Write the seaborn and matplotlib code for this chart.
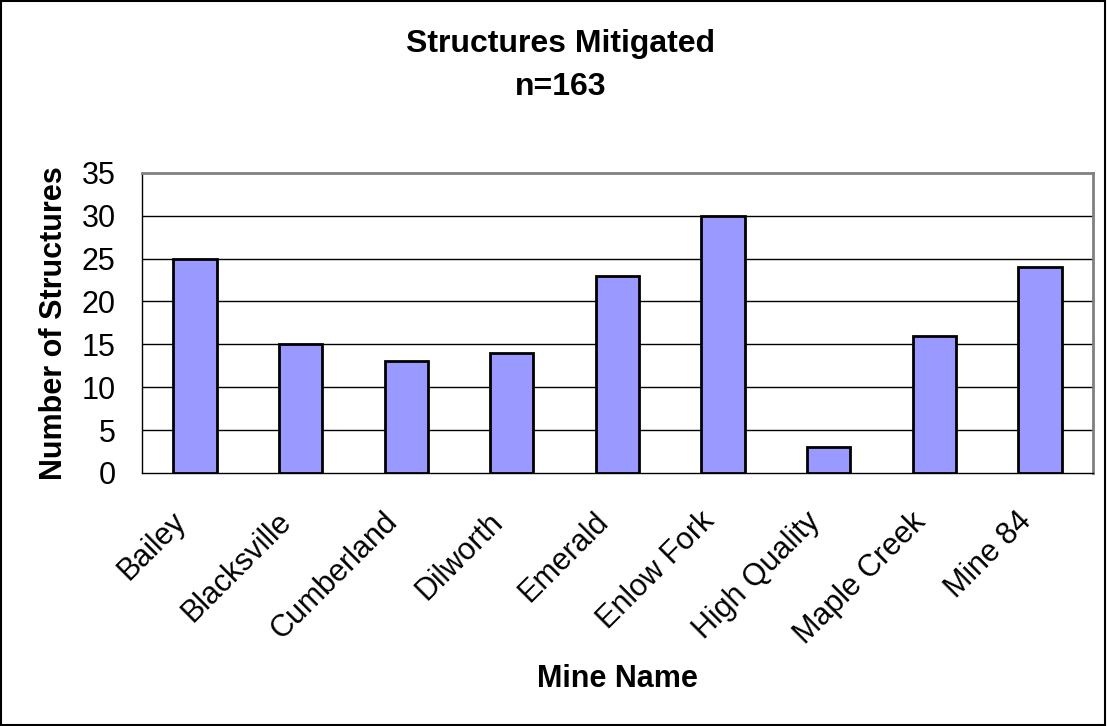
import matplotlib
matplotlib.use("Agg")
import matplotlib.pyplot as plt
import matplotlib.transforms as mtransforms
import seaborn as sns
import pandas as pd
from matplotlib.patches import Rectangle

# Chart data
mines = ["Bailey", "Blacksville", "Cumberland", "Dilworth", "Emerald",
         "Enlow Fork", "High Quality", "Maple Creek", "Mine 84"]
structures = [25, 15, 13, 14, 23, 30, 3, 16, 24]
y_ticks = [0, 5, 10, 15, 20, 25, 30, 35]

df = pd.DataFrame({"Mine Name": mines, "Number of Structures": structures})

sns.set_style("white")
plt.rcParams["font.family"] = ["Liberation Sans", "DejaVu Sans"]
plt.rcParams["text.color"] = "black"
plt.rcParams["xtick.color"] = "black"
plt.rcParams["ytick.color"] = "black"
plt.rcParams["axes.labelcolor"] = "black"

fig = plt.figure(figsize=(11.07, 7.26), dpi=100)
ax = fig.add_axes([0.1283, 0.3485, 0.9873 - 0.1283, 0.762 - 0.3485])

sns.barplot(data=df, x="Mine Name", y="Number of Structures", ax=ax,
            color="#9999FF", saturation=1, width=0.41,
            edgecolor="black", linewidth=2, zorder=3)

ax.set_ylim(0, 35)
ax.set_xlim(-0.5, len(mines) - 0.5)
ax.set_yticks(y_ticks)
ax.set_yticklabels([str(v) for v in y_ticks], fontsize=22)
for v in y_ticks[1:-1]:
    ax.axhline(v, color="black", linewidth=1, zorder=1)

# x ticks between categories
ax.set_xticks([i - 0.5 for i in range(len(mines) + 1)], minor=True)
ax.tick_params(axis="x", which="minor", length=8, width=1, color="black", direction="out")
ax.tick_params(axis="x", which="major", length=0)
ax.tick_params(axis="y", length=5, width=1, color="black", direction="out", pad=14)
ax.set_xticks(range(len(mines)))
ax.set_xticklabels(mines, rotation=45, ha="right", va="top",
                   rotation_mode="anchor", fontsize=22)
ax.tick_params(axis="x", which="major", pad=22)
shift = mtransforms.ScaledTranslation(-0.24, -0.03, fig.dpi_scale_trans)
for lab in ax.get_xticklabels():
    lab.set_transform(lab.get_transform() + shift)

for side in ["top", "right"]:
    ax.spines[side].set_color("#808080")
    ax.spines[side].set_linewidth(2)
for side in ["left", "bottom"]:
    ax.spines[side].set_color("black")
    ax.spines[side].set_linewidth(1)

ax.set_xlabel("Mine Name", fontsize=22, fontweight="bold")
ax.xaxis.set_label_coords(0.5, -0.635)
ax.set_ylabel("Number of Structures", fontsize=22, fontweight="bold")
ax.yaxis.set_label_coords(-0.0925, 0.5)
ax.yaxis.label.set_va("center")

fig.text(0.506, 1 - 52 / 726, "Structures Mitigated", ha="center", va="baseline",
         fontsize=23, fontweight="bold")
fig.text(0.506, 1 - 95 / 726, "n=163", ha="center", va="baseline",
         fontsize=23, fontweight="bold")

# outer chart border
fig.patches.append(Rectangle((0.001, 0.002), 0.997, 0.996, transform=fig.transFigure,
                             fill=False, edgecolor="black", linewidth=1.5))

fig.savefig("out.png", dpi=100)
